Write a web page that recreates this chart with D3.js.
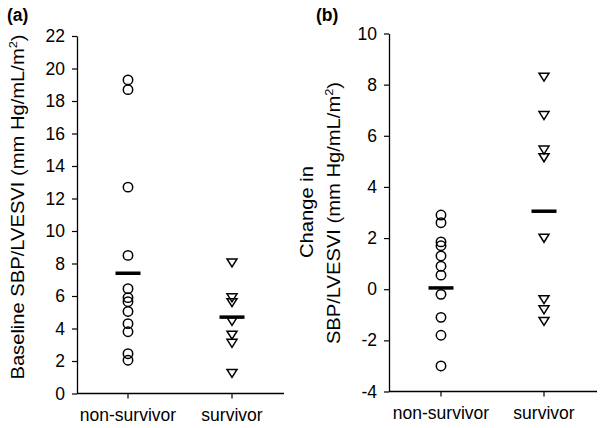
<!DOCTYPE html>
<html>
<head>
<meta charset="utf-8">
<script src="https://cdn.jsdelivr.net/npm/d3@7"></script>
<style>
  body { margin: 0; background: #fff; }
  svg { font-family: "Liberation Sans", Arial, sans-serif; }
</style>
</head>
<body>
<svg id="chart" width="600" height="428"></svg>
<script>
var groups = ['non-survivor', 'survivor']

// panel (a): baseline SBP/LVESVI
var a_nonsurv = [19.3, 18.7, 12.7, 8.5, 6.45, 5.9, 5.65, 5.05, 4.3, 3.8, 2.45, 2.05]
var a_surv = [8.05, 5.9, 5.6, 4.45, 3.6, 3.1, 1.25]
var a_means = [7.4, 4.7]
var a_ticks = [0, 2, 4, 6, 8, 10, 12, 14, 16, 18, 20, 22]

// panel (b): change in SBP/LVESVI
var b_nonsurv = [2.9, 2.6, 1.85, 1.7, 1.3, 0.9, 0.55, -0.2, -1.1, -1.8, -3.0]
var b_surv = [8.3, 6.8, 5.45, 5.15, 2.0, -0.4, -0.8, -1.25]
var b_means = [0.05, 3.05]
var b_ticks = [-4, -2, 0, 2, 4, 6, 8, 10]

var svg = d3.select('#chart')
var font_size = 17.5
var title_size = 18
var title_stretch = 1.12 // reference lettering runs a bit wider than Arial

function draw_panel(cfg) {
    var g = svg.append('g')
    var y = d3.scaleLinear().domain(cfg.domain).range([cfg.bottom, cfg.top])
    var x = d3.scalePoint().domain(groups).range(cfg.cat_x)

    // y axis (plain hyphen for negatives, like the original)
    var yAxis = d3.axisLeft(y).tickValues(cfg.ticks).tickFormat(function(d) { return String(d) })
        .tickSize(5).tickPadding(7).tickSizeOuter(0)
    var ya = g.append('g').attr('transform', 'translate(' + cfg.left + ',0)').call(yAxis)
    ya.select('.domain').attr('stroke', '#000').attr('stroke-width', 1.3)
    ya.selectAll('.tick line').attr('stroke', '#000').attr('stroke-width', 1.2)
    ya.selectAll('.tick text').attr('font-size', font_size).attr('fill', '#000')
        .attr('font-family', '"Liberation Sans", Arial, sans-serif')

    // x axis
    var xa = g.append('g').attr('transform', 'translate(0,' + cfg.bottom + ')')
    xa.append('line').attr('x1', cfg.left).attr('x2', cfg.right)
        .attr('stroke', '#000').attr('stroke-width', 1.3)
    xa.selectAll('line.tk').data(groups).enter().append('line').attr('class', 'tk')
        .attr('x1', function(d) { return x(d) }).attr('x2', function(d) { return x(d) })
        .attr('y1', 0).attr('y2', 5).attr('stroke', '#000').attr('stroke-width', 1.2)
    xa.selectAll('text').data(groups).enter().append('text')
        .attr('x', function(d) { return x(d) }).attr('y', 27)
        .attr('text-anchor', 'middle').attr('font-size', font_size).text(function(d) { return d })

    // circles for non-survivors
    g.selectAll('circle').data(cfg.nonsurv).enter().append('circle')
        .attr('cx', x(groups[0])).attr('cy', function(d) { return y(d) })
        .attr('r', 4.7).attr('fill', 'none').attr('stroke', '#000').attr('stroke-width', 1.5)

    // down triangles for survivors
    var tri = 'M-5,-3.8L5,-3.8L0,4.2Z'
    g.selectAll('path.tri').data(cfg.surv).enter().append('path').attr('class', 'tri')
        .attr('d', tri)
        .attr('transform', function(d) { return 'translate(' + x(groups[1]) + ',' + y(d) + ')' })
        .attr('fill', 'none').attr('stroke', '#000').attr('stroke-width', 1.5)

    // mean bars
    g.selectAll('line.mean').data(cfg.means).enter().append('line').attr('class', 'mean')
        .attr('x1', function(d, i) { return x(groups[i]) - 12.5 })
        .attr('x2', function(d, i) { return x(groups[i]) + 12.5 })
        .attr('y1', function(d) { return y(d) }).attr('y2', function(d) { return y(d) })
        .attr('stroke', '#000').attr('stroke-width', 3.5)

    // panel letter
    g.append('text').attr('x', cfg.letter_x).attr('y', 21)
        .attr('font-size', 17.5).attr('font-weight', 'bold').text(cfg.letter)
    return g
}

var ga = draw_panel({
    domain: [0, 22], top: 36, bottom: 393.5, left: 77, right: 284,
    cat_x: [128, 232], ticks: a_ticks, nonsurv: a_nonsurv, surv: a_surv,
    means: a_means, letter: '(a)', letter_x: 7
})
var gb = draw_panel({
    domain: [-4, 10], top: 33.5, bottom: 391.5, left: 389, right: 597,
    cat_x: [441, 544], ticks: b_ticks, nonsurv: b_nonsurv, surv: b_surv,
    means: b_means, letter: '(b)', letter_x: 316
})

// axis titles with superscript
function unit_label(sel, prefix) {
    sel.append('tspan').text(prefix + '(mm Hg/mL/m')
    sel.append('tspan').attr('dy', -7).attr('font-size', 11.5).text('2')
    sel.append('tspan').attr('dy', 7).text(')')
}
function rot_title(g, x, y) {
    return g.append('text')
        .attr('transform', 'translate(' + x + ',' + y + ') rotate(-90) scale(' + title_stretch + ',1)')
        .attr('text-anchor', 'middle').attr('font-size', title_size)
}

unit_label(rot_title(ga, 24, 207), 'Baseline SBP/LVESVI ')
rot_title(gb, 313, 212).text('Change in')
unit_label(rot_title(gb, 340, 213), 'SBP/LVESVI ')
</script>
</body>
</html>
